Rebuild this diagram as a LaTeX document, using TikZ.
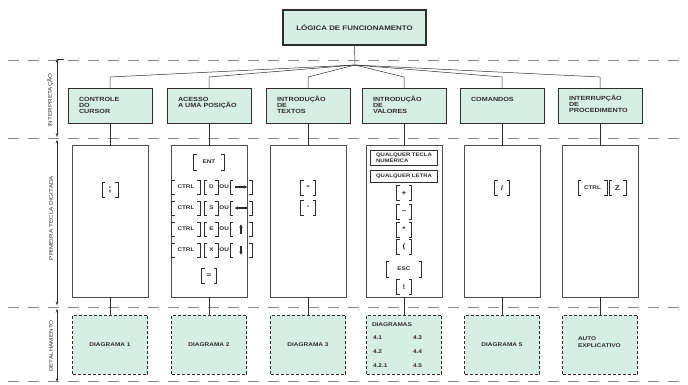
\documentclass[tikz,border=0pt]{standalone}
\usepackage{fontspec}
\setsansfont{Liberation Sans}
\newfontfamily\lbl{Liberation Sans}[FakeStretch=1.2]
\usetikzlibrary{calc,arrows.meta}
\definecolor{mint}{HTML}{D6EEE4}
\definecolor{ink}{HTML}{2E2E2E}
\definecolor{sep}{HTML}{8A8A8A}
\tikzset{
 every node/.style={inner sep=0pt, outer sep=0pt},
 lab/.style={font=\lbl\bfseries\fontsize{6}{6.3}\selectfont, align=left, anchor=north west, text=ink},
 topbox/.style={draw=ink, line width=1.1pt, fill=mint},
 headbox/.style={draw=ink, line width=0.9pt, fill=mint, minimum width=84pt, minimum height=35pt},
 keybox/.style={draw=ink!85, line width=0.6pt, fill=white, minimum width=76pt, minimum height=152pt},
 detbox/.style={draw=ink, line width=0.8pt, dash pattern=on 3pt off 2pt, fill=mint, minimum width=75pt, minimum height=59pt},
 sepline/.style={draw=sep, line width=0.7pt, dash pattern=on 11pt off 9pt},
 conn/.style={draw=ink, line width=0.5pt},
 kcap/.style={font=\lbl\bfseries\fontsize{5.3}{5.3}\selectfont, inner xsep=3pt, minimum height=14pt, text=ink},
 onekey/.style={font=\lbl\bfseries\fontsize{6.8}{6.8}\selectfont, minimum width=15pt, minimum height=15pt},
 kbr/.style={draw=ink, line width=0.75pt},
 arr/.style={draw=ink, line width=1.1pt, -{Latex[length=3.5pt,width=3.8pt]}},
 axis/.style={draw=ink, line width=0.6pt, {Stealth[length=4pt,width=2.5pt]}-{Stealth[length=4pt,width=2.5pt]}},
 sidelab/.style={font=\lbl\fontsize{5.3}{5.3}\selectfont, rotate=90, text=ink},
 framelab/.style={draw=ink, line width=0.9pt, minimum width=67pt, font=\lbl\bfseries\fontsize{5}{4.6}\selectfont, align=left, text=ink},
 dlab/.style={font=\lbl\bfseries\fontsize{5.4}{6.5}\selectfont, text=ink, align=left},
}
\newcommand\tecla[4][]{%
  \node[kcap,#1] (#2) at (#3) {#4};
  \draw[kbr] ([xshift=3pt]#2.north west) -- (#2.north west) -- (#2.south west) -- ([xshift=3pt]#2.south west);
  \draw[kbr] ([xshift=-3pt]#2.north east) -- (#2.north east) -- (#2.south east) -- ([xshift=-3pt]#2.south east);}
\begin{document}
\begin{tikzpicture}[x=1pt,y=-1pt]
\useasboundingbox (0,0) rectangle (688,384);
% separators
\draw[sepline] (8,60) -- (688,60);
\draw[sepline] (8,138) -- (688,138);
\draw[sepline] (8,307) -- (688,307);
\draw[sepline] (8,381) -- (688,381);
% side axis
\coordinate (ax0) at (64,59);
\coordinate (ax1) at (57,59);
\coordinate (ax2) at (57,137);
\coordinate (ax3) at (57,139.5);
\coordinate (ax4) at (57,305.5);
\coordinate (ax5) at (57,308.5);
\coordinate (ax6) at (57,382);
\draw[conn, line width=0.6pt] (ax0) -- (ax1);
\draw[axis] (ax1) -- (ax2);
\draw[axis] (ax3) -- (ax4);
\draw[axis] (ax5) -- (ax6);
\node[sidelab] (s1) at (50,100) {INTERPRETAÇÃO};
\node[sidelab] (s2) at (51,218) {PRIMEIRA TECLA DIGITADA};
\node[sidelab] (s3) at (51,346) {DETALHAMENTO};
% top box
\node[topbox, minimum width=143pt, minimum height=35pt] (top) at (354.5,27.5) {};
\node[lab, anchor=center, font=\lbl\bfseries\fontsize{6.6}{6.6}\selectfont] (toplab) at (top.center) {LÓGICA DE FUNCIONAMENTO};
\coordinate (hub) at (355,65);
% columns
\foreach \i/\cx in {1/110,2/209,3/308,4/404,5/502,6/600}{
  \node[headbox] (h\i) at (\cx,105.5) {};
  \node[keybox] (k\i) at (\cx,221) {};
  \node[detbox] (d\i) at (\cx,344.5) {};
  \coordinate (f\i) at (\cx,77);
  \draw[conn] (hub) -- (f\i) -- (h\i.north);
  \draw[conn] (h\i.south) -- (k\i.north);
  \draw[conn] (k\i.south) -- (d\i.north);
}
\draw[conn] (top.south) -- (hub);
% header labels
\node[lab] (t1) at ([xshift=11pt,yshift=-9pt]h1.north west) {CONTROLE\\DO\\CURSOR};
\node[lab] (t2) at ([xshift=11pt,yshift=-9pt]h2.north west) {ACESSO\\A UMA POSIÇÃO};
\node[lab] (t3) at ([xshift=11pt,yshift=-8pt]h3.north west) {INTRODUÇÃO\\DE\\TEXTOS};
\node[lab] (t4) at ([xshift=11pt,yshift=-8pt]h4.north west) {INTRODUÇÃO\\DE\\VALORES};
\node[lab] (t5) at ([xshift=11pt,yshift=-9pt]h5.north west) {COMANDOS};
\node[lab] (t6) at ([xshift=11pt,yshift=-7pt]h6.north west) {INTERRUPÇÃO\\DE\\PROCEDIMENTO};
% column 1 keys
\tecla[onekey, minimum width=16pt, font=\lbl\bfseries\fontsize{9}{9}\selectfont]{sc}{110,189.5}{;}
% column 2 keys
\tecla[inner xsep=9pt, minimum height=16pt]{ent}{209,162}{ENT}
\tecla[anchor=west, inner xsep=6pt]{cA}{171.5,187}{CTRL}
\tecla[anchor=west, minimum width=14pt]{kD}{$(cA.east)+(4,0)$}{D}
\node[kcap, anchor=west, inner xsep=1pt] (oA) at (kD.east) {OU};
\tecla[anchor=west, minimum width=22pt]{aA}{oA.east}{}
\draw[arr] ([xshift=5pt]aA.west) -- ([xshift=-4.5pt]aA.east);
\tecla[anchor=west, inner xsep=6pt]{cB}{171.5,208}{CTRL}
\tecla[anchor=west, minimum width=14pt]{kS}{$(cB.east)+(4,0)$}{S}
\node[kcap, anchor=west, inner xsep=1pt] (oB) at (kS.east) {OU};
\tecla[anchor=west, minimum width=22pt]{aB}{oB.east}{}
\draw[arr] ([xshift=-5pt]aB.east) -- ([xshift=4.5pt]aB.west);
\tecla[anchor=west, inner xsep=6pt]{cC}{171.5,229}{CTRL}
\tecla[anchor=west, minimum width=14pt]{kE}{$(cC.east)+(4,0)$}{E}
\node[kcap, anchor=west, inner xsep=1pt] (oC) at (kE.east) {OU};
\tecla[anchor=west, minimum width=22pt]{aC}{oC.east}{}
\draw[arr] ([yshift=2.5pt]aC.south) -- ([yshift=-2pt]aC.north);
\tecla[anchor=west, inner xsep=6pt]{cD}{171.5,250}{CTRL}
\tecla[anchor=west, minimum width=14pt]{kX}{$(cD.east)+(4,0)$}{X}
\node[kcap, anchor=west, inner xsep=1pt] (oD) at (kX.east) {OU};
\tecla[anchor=west, minimum width=22pt]{aD}{oD.east}{}
\draw[arr] ([yshift=-2.5pt]aD.north) -- ([yshift=2pt]aD.south);
\tecla[onekey]{eq}{209,276}{=}
% column 3 keys
\tecla[onekey]{q1}{308,188}{"}
\tecla[onekey]{q2}{308,208}{'}
% column 4 keys
\node[framelab, minimum height=15pt] (qn) at (404,157.5) {QUALQUER TECLA\\NUMÉRICA};
\node[framelab, minimum height=12pt] (ql) at (404,176) {QUALQUER LETRA};
\tecla[onekey]{kp}{404,193}{+}
\tecla[onekey]{km}{404,212}{−}
\tecla[onekey]{ka}{404,229.5}{*}
\tecla[onekey]{kl}{404,247}{(}
\tecla[inner xsep=11pt, minimum height=16pt]{ke}{404,269}{ESC}
\tecla[onekey]{kx}{404,287}{!}
% column 5 keys
\tecla[onekey]{ks}{502,188}{/}
% column 6 keys
\tecla[anchor=west, inner xsep=6pt, minimum height=15pt]{cz}{578,188}{CTRL}
\tecla[anchor=west, onekey, minimum width=17pt]{kz}{$(cz.east)+(2,0)$}{Z}
% detail labels
\node[dlab] (dt1) at (d1.center) {DIAGRAMA 1};
\node[dlab] (dt2) at (d2.center) {DIAGRAMA 2};
\node[dlab] (dt3) at (d3.center) {DIAGRAMA 3};
\node[dlab, anchor=west] (dg) at (372,325) {DIAGRAMAS};
\node[dlab, anchor=west] (n41) at (373,338) {4.1};
\node[dlab, anchor=west] (n43) at (413,338) {4.3};
\node[dlab, anchor=west] (n42) at (373,352) {4.2};
\node[dlab, anchor=west] (n44) at (413,352) {4.4};
\node[dlab, anchor=west] (n421) at (373,366) {4.2.1};
\node[dlab, anchor=west] (n45) at (413,366) {4.5};
\node[dlab] (dt5) at (d5.center) {DIAGRAMA 5};
\node[dlab, anchor=west] (dt6) at (578,342) {AUTO\\EXPLICATIVO};
\end{tikzpicture}
\end{document}
